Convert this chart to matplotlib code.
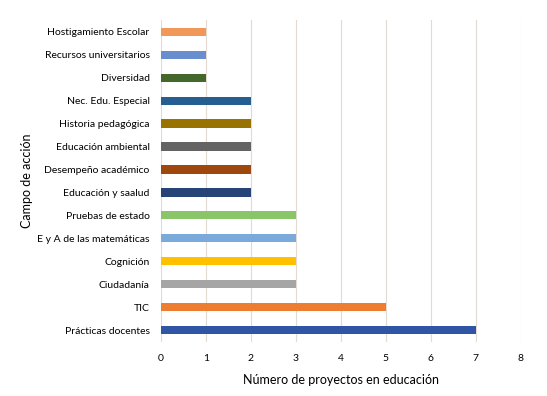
import matplotlib
matplotlib.use("Agg")
import matplotlib.pyplot as plt

categories = ["Prácticas docentes", "TIC", "Ciudadanía", "Cognición",
              "E y A de las matemáticas", "Pruebas de estado", "Educación y saalud",
              "Desempeño académico", "Educación ambiental", "Historia pedagógica",
              "Nec. Edu. Especial", "Diversidad", "Recursos universitarios",
              "Hostigamiento Escolar"]
values = [7, 5, 3, 3, 3, 3, 2, 2, 2, 2, 2, 1, 1, 1]
colors = ["#2F55A4", "#ED7D31", "#A5A5A5", "#FFC000", "#7AAADC", "#8BC56A",
          "#264478", "#9E480E", "#636363", "#997300", "#255E91", "#43682B",
          "#698ED0", "#F1975A"]
xticks = list(range(0, 9))

plt.rcParams['font.family'] = ['Lato', 'DejaVu Sans']
fig = plt.figure(figsize=(5.47, 3.96), dpi=100)
ax = fig.add_axes([0.294, 0.1376, 0.658, 0.811])
ypos = list(range(len(categories)))
ax.barh(ypos, values, height=0.36, color=colors, zorder=3)
ax.set_yticks(ypos)
ax.set_yticklabels(categories, fontsize=7.5)
ax.set_xticks(xticks)
ax.set_xticklabels([str(t) for t in xticks], fontsize=7.5)
ax.set_xlim(0, 8)
ax.set_ylim(-0.5, len(categories) - 0.5)
for s in ax.spines.values():
    s.set_visible(False)
ax.tick_params(length=0, pad=8)
ax.tick_params(axis='x', pad=9)
ax.xaxis.grid(True, color="#E3DAD2", linewidth=0.8, zorder=0)
ax.set_xlabel("Número de proyectos en educación", fontsize=9, labelpad=8)
ax.set_ylabel("Campo de acción", fontsize=9, labelpad=3)
fig.savefig("out.png", dpi=100)
